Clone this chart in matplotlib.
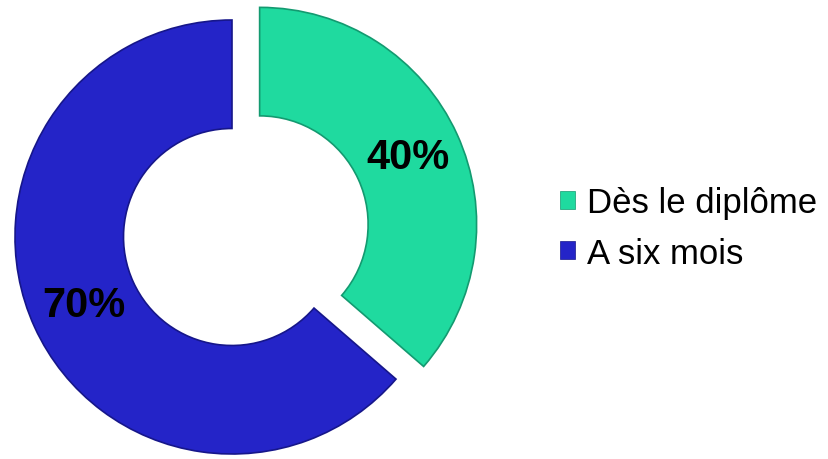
import numpy as np
import matplotlib.pyplot as plt

labels = ["Dès le diplôme", "A six mois"]
values = [40, 70]
pct_labels = ["40%", "70%"]
colors = ["#1FDA9F", "#2424C8"]
edge_colors = ["#139a70", "#16168a"]

W, H = 829, 460
fig = plt.figure(figsize=(W / 100, H / 100), dpi=100)
ax = fig.add_axes([0, 0, 1, 1])

# pie centre / radius in pixels
cx, cy, R = 232, 238, 217

wedges, _ = ax.pie(values, colors=colors, startangle=90, counterclock=False,
                   explode=[0.14, 0], radius=1,
                   wedgeprops=dict(width=0.5, linewidth=1.2))
for w, ec in zip(wedges, edge_colors):
    w.set_edgecolor(ec)

ax.set_xlim(-cx / R, (W - cx) / R)
ax.set_ylim(-(H - cy) / R, cy / R)
ax.set_aspect("auto")
ax.axis("off")

# percentage labels along wedge mid angles
for w, txt in zip(wedges, pct_labels):
    ang = np.deg2rad((w.theta1 + w.theta2) / 2)
    x0, y0 = w.center
    r = 0.75
    ax.text(x0 + r * np.cos(ang), y0 + r * np.sin(ang), txt,
            ha="center", va="center", fontsize=30, fontweight="bold",
            family=["Liberation Sans", "DejaVu Sans"], color="black")

leg = ax.legend(wedges, labels, loc="center left",
                bbox_to_anchor=(560 / W, 1 - 229 / H),
                bbox_transform=fig.transFigure,
                frameon=False, borderaxespad=0, borderpad=0,
                handlelength=0.42, handleheight=0.42,
                handletextpad=0.35, labelspacing=0.5,
                prop={"family": ["Liberation Sans", "DejaVu Sans"], "size": 25})
for h in leg.legend_handles:
    h.set_linewidth(0.5)

fig.savefig("out.png", dpi=100)
